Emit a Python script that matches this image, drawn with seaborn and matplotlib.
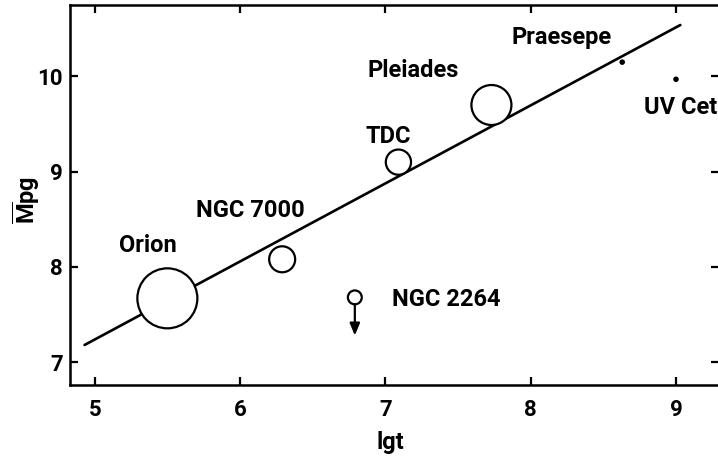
import matplotlib
matplotlib.use("Agg")
import matplotlib.pyplot as plt
import seaborn as sns
import pandas as pd

# ---- data ----
names = ["Orion", "NGC 7000", "NGC 2264", "TDC", "Pleiades", "Praesepe", "UV Cet"]
lgt = [5.50, 6.29, 6.79, 7.09, 7.73, 8.63, 9.00]
mpg = [7.67, 8.08, 7.68, 9.10, 9.70, 10.15, 9.97]
marker_area = [1866, 350, 100, 330, 829, 16, 16]
open_marker = [True, True, True, True, True, False, False]

fit_x = [4.93, 9.03]
fit_y = [7.18, 10.54]

upper_limit_name = "NGC 2264"
upper_limit_to = 7.28

xticks = [5, 6, 7, 8, 9]
yticks = [7, 8, 9, 10]

label_pos = {
    "Orion": (5.365, 8.22),
    "NGC 7000": (6.07, 8.59),
    "NGC 2264": (7.42, 7.66),
    "TDC": (7.02, 9.37),
    "Pleiades": (7.19, 10.06),
    "Praesepe": (8.21, 10.41),
    "UV Cet": (9.03, 9.67),
}

sns.set_theme(style="ticks")
plt.rcParams["font.family"] = ["Roboto", "DejaVu Sans"]
plt.rcParams["mathtext.fontset"] = "custom"
plt.rcParams["mathtext.rm"] = "Roboto:bold"
plt.rcParams["mathtext.it"] = "Roboto:bold"
plt.rcParams["mathtext.bf"] = "Roboto:bold"

df = pd.DataFrame({"name": names, "lgt": lgt, "mpg": mpg,
                   "area": marker_area, "open": open_marker})

fig = plt.figure(figsize=(7.18, 4.63), dpi=100)
ax = fig.add_axes([70 / 718, 1 - 385 / 463, 649 / 718, 380 / 463])

sns.lineplot(x=fit_x, y=fit_y, ax=ax, color="black", linewidth=1.9)

op = df[df["open"]]
sns.scatterplot(data=op, x="lgt", y="mpg", s=op["area"].tolist(), ax=ax,
                facecolor="white", edgecolor="black", linewidth=1.6, zorder=3,
                legend=False)
cl = df[~df["open"]]
sns.scatterplot(data=cl, x="lgt", y="mpg", s=cl["area"].tolist(), ax=ax,
                color="black", edgecolor="black", linewidth=0, zorder=3,
                legend=False)

row = df[df["name"] == upper_limit_name].iloc[0]
ax.annotate("", xy=(row["lgt"], upper_limit_to), xytext=(row["lgt"], row["mpg"] - 0.07),
            arrowprops=dict(arrowstyle="-|>,head_length=0.6,head_width=0.25",
                            color="black", lw=1.6, shrinkA=0, shrinkB=0))

for n, (tx, ty) in label_pos.items():
    ax.text(tx, ty, n, ha="center", va="center", fontsize=17, fontweight="bold",
            color="black")

ax.set_xlim(4.83, 9.296)
ax.set_ylim(6.76, 10.75)
ax.set_xticks(xticks)
ax.set_yticks(yticks)
ax.set_xticklabels([str(t) for t in xticks])
ax.set_yticklabels([str(t) for t in yticks])
ax.tick_params(direction="in", length=6, width=1.6, labelsize=16, top=True, right=True,
               colors="black")
ax.tick_params(axis="x", pad=10)
ax.tick_params(axis="y", pad=5)
for lab in ax.get_xticklabels() + ax.get_yticklabels():
    lab.set_fontweight("bold")
for s in ax.spines.values():
    s.set_linewidth(1.8)
    s.set_color("black")

ax.set_xlabel("lgt", fontsize=17, fontweight="bold", color="black")
ax.set_ylabel(r"$\overline{\mathrm{M}}\mathrm{pg}$", fontsize=17, color="black")
ax.xaxis.set_label_coords(0.493, -0.150)
ax.yaxis.set_label_coords(-0.067, 0.487)
ax.xaxis.label.set_va("center")
ax.yaxis.label.set_va("center")

fig.savefig("out.png", dpi=100)
